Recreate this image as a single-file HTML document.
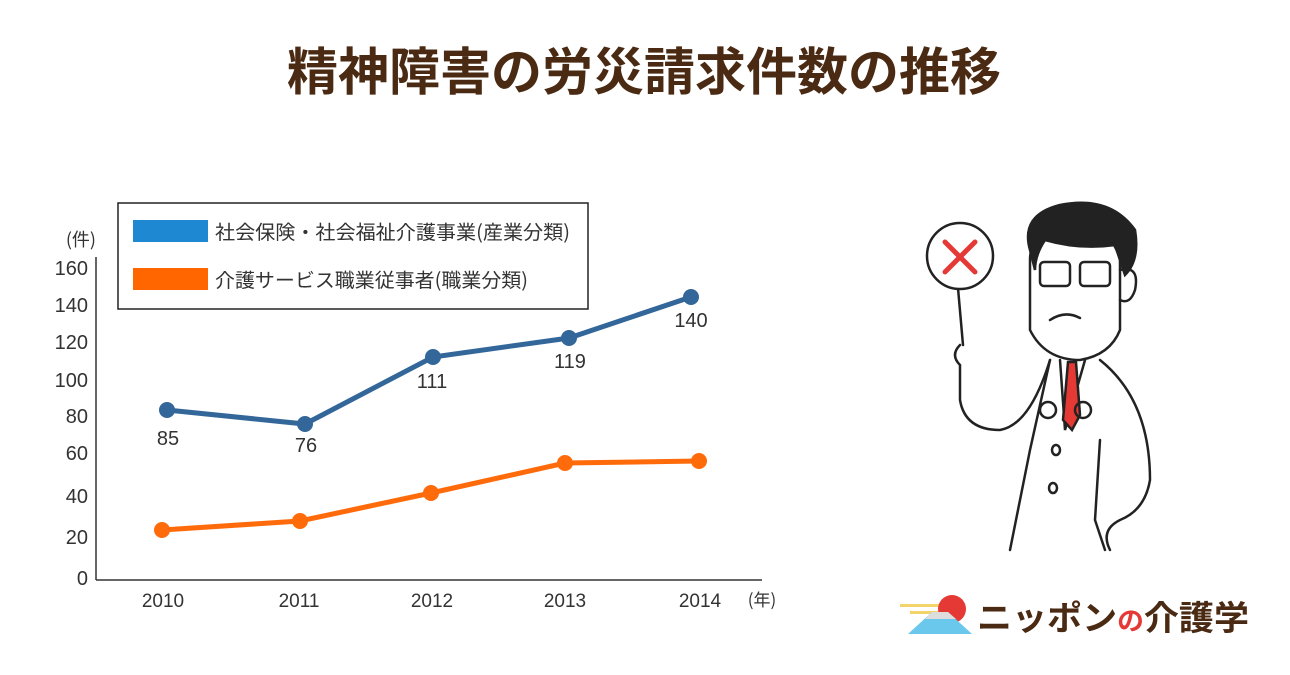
<!DOCTYPE html>
<html><head><meta charset="utf-8"><style>
body{margin:0;background:#fff;}
svg{display:block;font-family:"Liberation Sans","Noto Sans CJK JP",sans-serif;}
</style></head><body>
<svg width="1290" height="675" viewBox="0 0 1290 675">
<text x="644" y="90" text-anchor="middle" font-size="51" font-weight="bold" fill="#4a2a12" font-family="'Noto Sans CJK JP',sans-serif">精神障害の労災請求件数の推移</text>
<!-- axes -->
<line x1="96" y1="257" x2="96" y2="580" stroke="#333" stroke-width="1.5"/>
<line x1="96" y1="580" x2="762" y2="580" stroke="#333" stroke-width="1.5"/>
<g font-size="20" fill="#333" text-anchor="end">
<text x="88" y="275">160</text><text x="88" y="312">140</text><text x="88" y="349">120</text>
<text x="88" y="387">100</text><text x="88" y="423">80</text><text x="88" y="460">60</text>
<text x="88" y="503">40</text><text x="88" y="544">20</text><text x="88" y="585">0</text>
</g>
<text x="96" y="246" font-size="18" fill="#333" text-anchor="end" font-family="'Noto Sans CJK JP',sans-serif">(件)</text>
<g font-size="19" fill="#333" text-anchor="middle">
<text x="163" y="607">2010</text><text x="299" y="607">2011</text><text x="432" y="607">2012</text>
<text x="565" y="607">2013</text><text x="700" y="607">2014</text>
</g>
<text x="762" y="606" font-size="17" fill="#333" text-anchor="middle" font-family="'Noto Sans CJK JP',sans-serif">(年)</text>
<!-- legend -->
<rect x="118" y="203" width="470" height="106" fill="#fff" stroke="#222" stroke-width="1.5"/>
<rect x="133" y="220" width="75" height="22" fill="#1e88d2"/>
<rect x="133" y="268" width="75" height="22" fill="#ff6600"/>
<g font-size="19.5" fill="#333" font-family="'Noto Sans CJK JP',sans-serif">
<text x="215" y="239" textLength="355" lengthAdjust="spacingAndGlyphs">社会保険・社会福祉介護事業(産業分類)</text>
<text x="215" y="287" textLength="313" lengthAdjust="spacingAndGlyphs">介護サービス職業従事者(職業分類)</text>
</g>
<!-- series -->
<polyline points="167,410 305,424 433,357 569,338 691,297" fill="none" stroke="#336699" stroke-width="5"/>
<g fill="#336699"><circle cx="167" cy="410" r="8"/><circle cx="305" cy="424" r="8"/><circle cx="433" cy="357" r="8"/><circle cx="569" cy="338" r="8"/><circle cx="691" cy="297" r="8"/></g>
<polyline points="162,530 300,521 431,493 565,463 699,461" fill="none" stroke="#ff6a0a" stroke-width="5"/>
<g fill="#ff6a0a"><circle cx="162" cy="530" r="8"/><circle cx="300" cy="521" r="8"/><circle cx="431" cy="493" r="8"/><circle cx="565" cy="463" r="8"/><circle cx="699" cy="461" r="8"/></g>
<g font-size="20" fill="#333" text-anchor="middle">
<text x="168" y="445">85</text><text x="306" y="452">76</text><text x="432" y="388">111</text>
<text x="570" y="368">119</text><text x="691" y="327">140</text>
</g>
<!-- doctor -->
<g fill="none" stroke="#222" stroke-width="2.5" stroke-linecap="round">
<line x1="958" y1="288" x2="963" y2="345"/>
<circle cx="960" cy="256" r="33" fill="#fff"/>
<path d="M945 242 L975 272 M975 242 L945 272" stroke="#e53935" stroke-width="5"/>
<path d="M1030 260 Q1030 230 1070 225 Q1110 222 1120 260 L1120 330 Q1110 355 1080 360 Q1045 360 1030 330 Z" fill="#fff"/>
<path d="M1030 250 Q1020 215 1060 205 Q1110 195 1135 230 Q1140 260 1125 275 L1115 245 Q1080 250 1045 240 Q1035 255 1035 270 Z" fill="#222"/>
<rect x="1040" y="262" width="30" height="24" rx="4"/><rect x="1080" y="262" width="30" height="24" rx="4"/>
<path d="M1120 270 Q1140 265 1135 290 Q1130 305 1120 300"/>
<path d="M1050 320 Q1065 310 1080 318"/>
<path d="M960 345 Q950 355 960 365 L960 400 Q965 430 1000 430 Q1030 425 1050 360"/>
<path d="M1050 360 L1030 450 L1010 550 M1100 360 Q1150 400 1150 480 Q1145 510 1120 520 Q1100 530 1110 550"/>
<path d="M1060 360 L1065 430 L1085 360"/>
<path d="M1068 362 L1063 420 L1072 430 L1080 415 L1076 362 Z" fill="#e53935"/>
<circle cx="1048" cy="410" r="8"/><circle cx="1083" cy="410" r="8"/>
<ellipse cx="1056" cy="450" rx="4" ry="5"/><ellipse cx="1053" cy="488" rx="4" ry="5"/>
<path d="M1100 440 L1095 520 L1105 550"/>
</g>
<!-- logo -->
<g>
<rect x="900" y="604" width="40" height="3" fill="#f2d46b"/><rect x="910" y="611" width="30" height="3" fill="#f2d46b"/>
<circle cx="952" cy="609" r="14" fill="#e53935"/>
<polygon points="908,634 932,612 948,612 972,634" fill="#69c8ec"/>
<polygon points="925,619 932,612 948,612 956,619" fill="#ddd"/>
</g>
<text x="977" y="630" font-size="34" font-weight="bold" fill="#4a2a12" font-family="'Noto Sans CJK JP',sans-serif" textLength="272" lengthAdjust="spacingAndGlyphs">ニッポン<tspan fill="#e53935" font-size="26">の</tspan>介護学</text>
</svg>
</body></html>
